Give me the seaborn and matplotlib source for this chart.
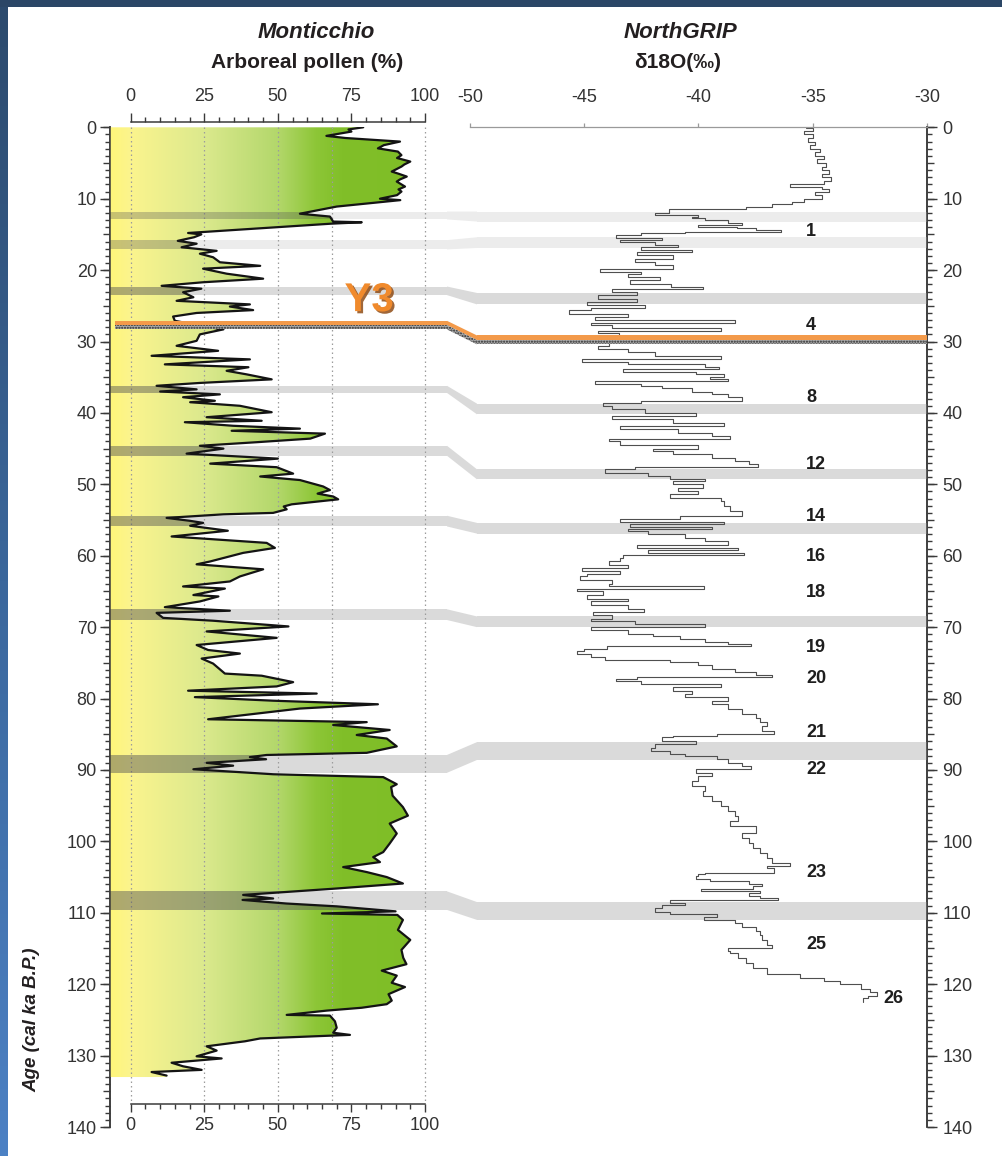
import numpy as np
import pandas as pd
import matplotlib
matplotlib.use("Agg")
import matplotlib.pyplot as plt
import seaborn as sns
from matplotlib.patches import Polygon, Rectangle
from matplotlib.colors import LinearSegmentedColormap
import matplotlib.patheffects as pe
from matplotlib.ticker import MultipleLocator, FixedLocator, NullFormatter

# ---------------- data ----------------
pollen_age = [0.0, 0.3, 0.6, 1.2, 1.5, 2.0, 2.5, 2.95, 3.4, 3.9, 4.3, 4.8, 5.2, 5.5, 6.2, 6.5, 6.9, 7.3, 7.6, 8.3,
              8.7, 9.0, 9.5, 10.0, 10.2, 11.1, 12.1, 12.5, 13.2, 13.3, 13.5, 14.6, 14.8, 15.0, 15.4, 15.9, 16.3, 16.8,
              17.3, 17.7, 18.2, 18.9, 19.4, 19.8, 20.5, 21.2, 21.7, 22.2, 22.6, 23.1, 23.8, 24.3, 24.8, 25.1, 25.6,
              26.0, 26.5, 27.1, 27.9, 28.3, 29.0, 29.9, 30.6, 31.3, 32.0, 32.5, 33.2, 33.6, 34.1, 34.6, 35.3, 35.8,
              36.2, 36.7, 37.0, 37.4, 37.8, 38.3, 38.5, 39.0, 39.9, 40.6, 41.1, 41.3, 41.8, 42.2, 42.5, 42.9, 43.6,
              44.1, 44.6, 45.0, 45.7, 46.4, 47.1, 47.6, 48.5, 48.9, 49.4, 50.3, 50.8, 51.3, 51.7, 52.1, 52.8, 53.1,
              53.5, 54.0, 54.2, 54.7, 55.1, 55.4, 55.8, 56.5, 57.3, 58.2, 58.9, 59.6, 60.8, 61.2, 61.9, 62.9, 63.6,
              64.3, 64.6, 65.5, 65.7, 66.4, 67.2, 67.7, 68.0, 68.7, 69.1, 69.9, 70.6, 71.5, 72.5, 73.2, 73.7, 74.4,
              75.1, 76.5, 76.8, 77.7, 78.3, 78.9, 79.3, 79.8, 80.3, 80.8, 81.4, 82.9, 83.3, 83.7, 84.4, 85.1, 85.6,
              86.7, 87.6, 87.9, 88.2, 88.5, 89.0, 89.4, 89.9, 90.6, 91.0, 92.0, 92.4, 93.6, 95.2, 96.4, 97.5, 98.9,
              100.3, 101.5, 102.2, 102.9, 103.6, 104.3, 105.0, 105.9, 106.6, 107.5, 108.0, 108.2, 108.7, 109.1,
              109.8, 110.1, 110.3, 111.0, 112.4, 113.8, 115.2, 116.3, 117.2, 118.1, 118.8, 119.8, 120.4, 121.4,
              122.3, 122.8, 123.3, 123.7, 124.3, 124.4, 125.2, 126.1, 126.8, 127.1, 127.6, 128.0, 128.7, 129.3,
              130.1, 130.4, 131.0, 131.5, 132.0, 132.3, 132.8]
pollen_ap = [79, 74, 75, 66.5, 73, 91.5, 86, 84, 90.8, 92, 90.5, 95, 93, 92, 88.7, 91, 93.8, 91.5, 90.4, 93.2,
             91, 92, 90.5, 84.7, 91.6, 70, 57.5, 67.7, 68.8, 78.5, 68, 27, 19.5, 24, 21.5, 16, 22.4, 17.3,
             29.2, 23.5, 28, 30.3, 44, 24.6, 32.6, 45, 24.6, 10.5, 24, 17.8, 21.3, 15.6, 40.5, 33.7, 41.6,
             22.4, 14.4, 15, 25, 31.5, 23.5, 22.4, 15.6, 29.7, 7.1, 40.5, 11.6, 40, 32.6, 39.4, 47.9, 23.5,
             8.8, 22.4, 10, 30.3, 17.8, 28.6, 20.2, 37.1, 47.9, 25.8, 44.5, 18.4, 34.8, 57.5, 34.3, 66, 61,
             42.8, 23.5, 31.5, 19, 50, 27, 49.6, 55.2, 44, 57.5, 65.4, 67.7, 63.5, 68.8, 70.5, 54.7, 52,
             53, 48.4, 31.5, 12.2, 20, 24.6, 20.2, 33, 13.9, 46.2, 49, 38.2, 27, 22.4, 45, 37.1, 33.7,
             17.8, 32, 21.3, 29.8, 23.5, 11.6, 33.7, 8.8, 11, 28, 53.6, 25.8, 49.6, 22.4, 26.3, 37.1, 24.1,
             28, 32, 44.5, 55.2, 49.6, 19.5, 63.2, 21.8, 48.4, 84, 57.5, 26.3, 80.2, 68.8, 88, 76.8, 87,
             90.4, 80.2, 46.2, 40.5, 46, 25.8, 34.8, 21.3, 48.4, 85.8, 90.4, 88.5, 89, 92.5, 94.2, 88, 90.4,
             88, 85.8, 82.4, 84.7, 72.2, 80.2, 87, 92.5, 70, 38.2, 48.4, 38, 52.8, 70,
             90, 65, 90.6, 92.5, 90.8, 95, 92, 92.6, 93.7, 85.3, 90.4, 88.7, 93.2, 87.6,
             88.7, 87, 78.5, 66.6, 53, 67.7, 69.4, 70, 68.8, 74.5, 44, 38.8, 25.8, 29.2,
             22.4, 30.9, 13.9, 17.8, 24.1, 7.1, 12.2]

ngrip_age = [0.1, 0.5, 1.0, 1.5, 2.0, 2.5, 3.0, 3.5, 4.0, 4.5, 5.0, 5.5, 6.0, 6.5, 7.0, 7.5, 8.0, 8.4, 8.6, 9.0,
             9.5, 10.0, 10.4, 10.8, 11.1, 11.5, 12.0, 12.25, 12.5, 12.7, 13.0, 13.4, 13.7, 13.9, 14.1, 14.4, 14.6,
             14.8, 15.1, 15.5, 15.8, 16.0, 16.5, 16.7, 17.2, 17.4, 17.9, 18.4, 18.8, 19.3, 19.8, 20.2, 20.6, 20.9,
             21.4, 21.9, 22.3, 22.7, 23.1, 23.5, 24.0, 24.5, 24.9, 25.3, 25.6, 26.1, 26.6, 27.0, 27.4, 27.7, 28.1,
             28.5, 28.8, 29.3, 29.9, 30.6, 31.0, 31.5, 32.0, 32.4, 32.8, 33.1, 33.5, 33.8, 34.2, 34.6, 34.9, 35.3,
             35.5, 36.0, 36.2, 36.5, 37.0, 37.4, 37.8, 38.3, 38.6, 39.0, 39.5, 39.95, 40.4, 40.9, 41.4, 41.8, 42.3,
             42.8, 43.2, 43.6, 44.0, 44.5, 45.0, 45.4, 45.8, 46.3, 46.8, 47.2, 47.6, 47.8, 48.4, 48.9, 49.3, 49.6,
             50.0, 50.5, 50.9, 51.4, 51.9, 52.3, 53.05, 53.8, 54.5, 54.9, 55.3, 55.6, 56.0, 56.2, 56.6, 57.0, 57.5,
             58.0, 58.45, 58.9, 59.2, 59.6, 59.9, 60.3, 60.8, 61.3, 61.7, 62.1, 62.5, 62.9, 63.4, 63.9, 64.3, 64.6,
             65.0, 65.5, 66.0, 66.4, 66.9, 67.4, 67.9, 68.3, 68.8, 69.2, 69.6, 70.0, 70.4, 70.9, 71.3, 71.6, 72.1,
             72.4, 72.7, 73.0, 73.3, 73.7, 74.2, 74.55, 74.9, 75.35, 75.8, 76.3, 76.7, 77.0, 77.2, 77.6, 78.0, 78.4,
             78.9, 79.3, 79.8, 80.3, 80.8, 81.5, 82.2, 82.7, 83.3, 83.8, 84.5, 85.0, 85.2, 85.4, 85.9, 86.4, 86.9,
             87.3, 87.8, 88.1, 88.5, 89.0, 89.4, 89.9, 90.4, 90.8, 91.5, 92.3, 93.0, 93.7, 94.4, 95.1, 95.8, 96.5,
             97.2, 97.9, 98.8, 99.5, 100.2, 100.9, 101.6, 102.3, 103.05, 103.4, 103.75, 104.4, 104.55, 104.9,
             105.3, 105.6, 105.9, 106.2, 106.6, 106.9, 107.3, 107.65, 108.0, 108.2, 108.6, 108.9, 109.4, 109.9,
             110.2, 110.6, 111.0, 111.5, 112.0, 112.5, 113.1, 113.8, 114.55, 115.0, 115.3, 115.7, 116.4, 117.1,
             117.8, 118.6, 119.1, 119.5, 120.0, 120.7, 121.1, 121.6, 122.0, 122.5]
ngrip_d18o = [-35.3, -35.0, -35.4, -35.0, -35.2, -34.9, -35.1, -34.7, -34.9, -34.5, -34.8, -34.4, -34.6, -34.3,
              -34.6, -34.2, -34.5, -36.0, -34.6, -34.3, -34.9, -34.6, -35.4, -35.9, -36.8, -37.9, -41.3, -41.9,
              -40.0, -40.3, -39.7, -38.7, -38.1, -40.0, -38.3, -37.5, -36.4, -40.6, -42.5, -43.6, -41.6, -43.45,
              -41.9, -40.9, -42.5, -40.3, -42.7, -41.1, -42.8, -41.9, -41.1, -44.3, -42.5, -43.1, -41.7, -43.0,
              -41.2, -39.8, -43.8, -42.7, -44.4, -42.7, -44.9, -42.35, -44.7, -45.65, -43.1, -44.55, -38.4, -44.7,
              -43.8, -39.0, -44.4, -43.5, -44.55, -43.9, -44.4, -43.1, -41.9, -39.0, -45.1, -43.1, -39.7, -39.1,
              -43.3, -40.1, -38.9, -39.5, -38.7, -44.55, -42.5, -41.6, -40.3, -39.4, -38.7, -38.1, -42.5, -44.2,
              -43.8, -42.35, -40.1, -43.8, -41.1, -38.9, -43.45, -40.9, -39.4, -38.6, -43.9, -43.45, -40.0, -42.0,
              -41.1, -39.4, -38.4, -37.8, -37.4, -42.8, -44.1, -42.2, -41.25, -39.7, -41.1, -39.8, -40.9, -40.0,
              -41.25, -39.0, -38.9, -38.6, -38.1, -40.8, -43.45, -38.9, -43.0, -39.4, -43.1, -42.2, -40.6, -39.7,
              -38.7, -42.7, -38.25, -42.2, -38.0, -43.3, -43.45, -43.9, -43.1, -45.1, -43.45, -44.9, -45.2, -43.8,
              -43.9, -39.75, -45.3, -44.2, -44.9, -43.1, -44.7, -43.1, -42.4, -44.6, -43.8, -44.7, -42.8, -39.7,
              -44.7, -43.1, -42.0, -40.8, -39.7, -38.7, -37.7, -44.0, -45.0, -45.3, -44.7, -44.1, -41.25, -40.0,
              -39.4, -38.4, -37.5, -36.8, -42.7, -43.6, -42.5, -39.0, -41.1, -40.3, -40.6, -38.7, -39.4, -38.7,
              -38.1, -37.5, -37.3, -37.0, -37.2, -36.7, -39.2, -41.1, -41.6, -40.1, -41.9, -42.1, -41.25, -40.6,
              -39.2, -38.7, -38.1, -37.7, -40.1, -39.4, -40.0, -40.3, -39.7, -39.8, -39.4, -39.0, -38.7, -38.4,
              -38.25, -38.6, -37.5, -38.1, -37.8, -37.6, -37.3, -37.0, -36.8, -36.0, -37.0, -36.7, -39.7, -40.0,
              -40.1, -39.5, -37.8, -37.2, -37.6, -39.9, -37.3, -37.8, -37.3, -36.5, -41.25, -40.6, -41.6, -41.9,
              -41.25, -39.2, -39.75, -38.4, -38.1, -37.5, -37.3, -37.2, -37.0, -36.8, -38.7, -38.6, -38.25, -37.9,
              -37.6, -37.0, -35.55, -34.5, -33.8, -32.9, -32.5, -32.2, -32.6, -32.8]

event_labels = ["1", "4", "8", "12", "14", "16", "18", "19", "20", "21", "22", "23", "25", "26"]
event_age = [14.6, 27.7, 37.8, 47.2, 54.5, 60.1, 65.2, 72.9, 77.2, 84.7, 89.9, 104.4, 114.4, 122.0]
event_x = [-35.3] * 13 + [-31.9]

band_left_top = [11.8, 15.8, 22.3, 36.2, 44.6, 54.4, 67.5, 87.9, 107.0]
band_left_bot = [12.9, 17.1, 23.5, 37.2, 46.0, 55.9, 69.0, 90.4, 109.6]
band_right_top = [11.8, 15.4, 23.2, 38.7, 47.9, 55.4, 68.5, 86.1, 108.5]
band_right_bot = [13.2, 16.9, 24.8, 40.2, 49.3, 56.9, 70.0, 88.6, 111.0]
band_light = [True, True, False, False, False, False, False, False, False]

tephra_left = [27.1, 27.7, 28.3]     # orange top, orange/dots boundary, dots bottom
tephra_right = [29.15, 29.8, 30.4]
tephra_name = "Y3"

pollen_ticks = [0, 25, 50, 75, 100]
pollen_grid = [0, 25, 50, 68.5, 100]
ngrip_ticks = [-50, -45, -40, -35, -30]
age_ticks = list(range(0, 141, 10))

# ---------------- layout (pixels) ----------------
W, H = 1003, 1156
Y0, Y140 = 127.3, 1127.0
SPINE_L, P0, P100 = 110, 130.7, 425.0
MID0, MID1 = 447, 477
R_L, R_R = 470, 927

def fx(px):
    return px / W

def fy(py):
    return 1 - py / H

sns.set_theme(style="white")
plt.rcParams["font.family"] = ["Liberation Sans", "DejaVu Sans"]
plt.rcParams["hatch.linewidth"] = 1.0
plt.rcParams["axes.unicode_minus"] = False

fig = plt.figure(figsize=(W / 100, H / 100), dpi=100)
fig.patch.set_facecolor("white")

# border decorations
axb = fig.add_axes([0, 0, fx(8), 1 - 7 / H])
axb.imshow(np.linspace(0, 1, 256)[:, None], aspect="auto",
           cmap=LinearSegmentedColormap.from_list("b", ["#2c4a6d", "#3b679c", "#4c81c4"]))
axb.axis("off")
fig.patches.append(Rectangle((0, 1 - 7 / H), 1, 7 / H, transform=fig.transFigure,
                             facecolor="#2b4666", edgecolor="none", zorder=0))

ppu = (P100 - P0) / 100.0
xl0 = (SPINE_L - P0) / ppu
xl1 = (MID0 - P0) / ppu
ax_h = (Y140 - Y0) / H

ax1 = fig.add_axes([fx(SPINE_L), fy(Y140), fx(MID0 - SPINE_L), ax_h])
axm = fig.add_axes([fx(MID0), fy(Y140), fx(MID1 - MID0), ax_h])
ax2 = fig.add_axes([fx(R_L), fy(Y140), fx(R_R - R_L), ax_h])
for a in (ax1, axm, ax2):
    a.patch.set_alpha(0)
    a.set_ylim(140, 0)
ax1.set_xlim(xl0, xl1)
ax2.set_xlim(-50, -30)
axm.set_xlim(0, 1)
axm.axis("off")

TICKC = "#3a3a3a"
LABC = "#333333"

# ---------------- left panel ----------------
stops = [(xl0, "#fff67a"), (0, "#fbf48e"), (25, "#dbe98d"), (50, "#b3d76b"),
         (63, "#8dc637"), (72, "#81bf29"), (xl1, "#7ebd26")]
cmap = LinearSegmentedColormap.from_list(
    "yg", [((v - xl0) / (xl1 - xl0), c) for v, c in stops])
verts = [(xl0, pollen_age[0])] + list(zip(pollen_ap, pollen_age)) + \
        [(pollen_ap[-1], 133.0), (xl0, 133.0)]
poly = Polygon(verts, closed=True, facecolor="none", edgecolor="none", transform=ax1.transData)
ax1.add_patch(poly)
im = ax1.imshow(np.linspace(xl0, xl1, 600)[None, :], extent=(xl0, xl1, 133.5, 0), aspect="auto",
                cmap=cmap, vmin=xl0, vmax=xl1, zorder=1, interpolation="bilinear")
im.set_clip_path(poly)
ax1.set_xlim(xl0, xl1)
ax1.set_ylim(140, 0)

for t, b, light in zip(band_left_top, band_left_bot, band_light):
    ax1.axhspan(t, b, color="#ececec" if light else "#dadada", lw=0, zorder=0.5)
    ov = ax1.axhspan(t, b, color="#555555", alpha=0.32 if light else 0.47, lw=0, zorder=2)
    ov.set_clip_path(poly)

ax1.vlines(pollen_grid, 0, 136.8, colors="#9c9c9c", linestyles=(0, (1.2, 2.4)), lw=0.9, zorder=1.5)

df_p = pd.DataFrame({"ap": pollen_ap, "age": pollen_age})
sns.lineplot(data=df_p, x="ap", y="age", sort=False, estimator=None, color="#141414",
             lw=1.6, ax=ax1, zorder=3, legend=False)
ax1.set_xlim(xl0, xl1)
ax1.set_ylim(140, 0)

# tephra in left panel
x_t0 = (115 - P0) / ppu
ax1.fill_between([x_t0, xl1], tephra_left[0], tephra_left[1], color="#f39a4a", lw=0, zorder=4)
ax1.fill_between([x_t0, xl1], tephra_left[1], tephra_left[2], facecolor="#a8a8a8",
                 edgecolor="#2a2a2a", hatch="......", lw=0, zorder=4)

ax1.text(81.0, 24.2, tephra_name, color="#f08a2c", fontsize=29, fontweight="bold",
         ha="center", va="center", zorder=5,
         path_effects=[pe.withSimplePatchShadow(offset=(1.6, -1.6), shadow_rgbFace="#8f4c16", alpha=0.85)])

# axes styling left
for s in ("top", "right"):
    ax1.spines[s].set_visible(False)
ax1.spines["left"].set_color(TICKC)
ax1.spines["left"].set_linewidth(1.1)
ax1.spines["left"].set_bounds(0, 140)
ax1.spines["bottom"].set_position(("data", 136.8))
ax1.spines["bottom"].set_bounds(0, 100)
ax1.spines["bottom"].set_color(TICKC)
ax1.spines["bottom"].set_linewidth(1.1)
ax1.yaxis.set_major_locator(MultipleLocator(5))
ax1.yaxis.set_major_formatter(NullFormatter())
ax1.yaxis.set_minor_locator(MultipleLocator(1))
ax1.xaxis.set_major_locator(FixedLocator(pollen_ticks))
ax1.xaxis.set_minor_locator(FixedLocator(list(range(0, 101, 5))))
ax1.tick_params(axis="y", which="both", left=True, direction="out", color=TICKC, width=1.0)
ax1.tick_params(axis="y", which="major", length=5.2)
ax1.tick_params(axis="y", which="minor", length=3.6)
ax1.tick_params(axis="x", which="both", bottom=True, top=False, direction="out", color=TICKC,
                width=1.0, labelsize=13, labelcolor=LABC, pad=3)
ax1.tick_params(axis="x", which="major", length=6.0)
ax1.tick_params(axis="x", which="minor", length=3.8)
ax1.set_xlabel("")
ax1.set_ylabel("")

sy1 = ax1.secondary_yaxis(0)
sy1.spines["left"].set_color(TICKC)
sy1.spines["left"].set_linewidth(1.1)
sy1.yaxis.set_major_locator(FixedLocator(age_ticks))
sy1.tick_params(axis="y", which="major", direction="out", color=TICKC, width=1.0, length=7.5,
                labelsize=13, labelcolor=LABC, pad=2)

sec = ax1.secondary_xaxis(1 + 5.6 / (Y140 - Y0))
sec.spines["top"].set_bounds(0, 100)
sec.spines["top"].set_color(TICKC)
sec.spines["top"].set_linewidth(1.1)
sec.xaxis.set_major_locator(FixedLocator(pollen_ticks))
sec.xaxis.set_minor_locator(FixedLocator(list(range(0, 101, 5))))
sec.tick_params(axis="x", which="both", direction="out", color=TICKC, width=1.0,
                labelsize=13, labelcolor=LABC, pad=5.5)
sec.tick_params(axis="x", which="major", length=6.5)
sec.tick_params(axis="x", which="minor", length=3.8)

# ---------------- middle connectors ----------------
for lt, lb, rt, rb, light in zip(band_left_top, band_left_bot, band_right_top, band_right_bot, band_light):
    axm.fill([0, 1, 1, 0], [lt, rt, rb, lb], color="#ececec" if light else "#dadada", lw=0)
axm.fill([0, 1, 1, 0], [tephra_left[0], tephra_right[0], tephra_right[1], tephra_left[1]],
         color="#f39a4a", lw=0, zorder=4)
axm.fill([0, 1, 1, 0], [tephra_left[1], tephra_right[1], tephra_right[2], tephra_left[2]],
         facecolor="#a8a8a8", edgecolor="#2a2a2a", hatch="......", lw=0, zorder=4)

# ---------------- right panel ----------------
xr0 = -50 + (MID1 - R_L) / ((R_R - R_L) / 20.0)
for t, b, light in zip(band_right_top, band_right_bot, band_light):
    ax2.fill_between([xr0, -30], t, b, color="#ececec" if light else "#dadada", lw=0, zorder=0.5)
ax2.fill_between([xr0, -30], tephra_right[0], tephra_right[1], color="#f39a4a", lw=0, zorder=4)
ax2.fill_between([xr0, -30], tephra_right[1], tephra_right[2], facecolor="#a8a8a8",
                 edgecolor="#2a2a2a", hatch="......", lw=0, zorder=4)

df_n = pd.DataFrame({"d18o": ngrip_d18o, "age": ngrip_age})
sns.lineplot(data=df_n, x="d18o", y="age", sort=False, estimator=None, color="#4f4f4f",
             lw=0.8, drawstyle="steps-post", ax=ax2, zorder=2, legend=False)
ax2.set_xlim(-50, -30)
ax2.set_ylim(140, 0)
ax2.set_xlabel("")
ax2.set_ylabel("")

for lab, a, x in zip(event_labels, event_age, event_x):
    ax2.text(x, a, lab, fontsize=13, fontweight="bold", color="#1e1e1e", ha="left", va="center", zorder=6)

for s in ("left", "bottom"):
    ax2.spines[s].set_visible(False)
ax2.spines["top"].set_color("#9a9a9a")
ax2.spines["top"].set_linewidth(0.9)
ax2.spines["right"].set_color(TICKC)
ax2.spines["right"].set_linewidth(1.1)
ax2.yaxis.tick_right()
ax2.xaxis.tick_top()
ax2.yaxis.set_major_locator(MultipleLocator(5))
ax2.yaxis.set_major_formatter(NullFormatter())
ax2.yaxis.set_minor_locator(MultipleLocator(1))
ax2.xaxis.set_major_locator(FixedLocator(ngrip_ticks))
ax2.tick_params(axis="y", which="both", right=True, left=False, direction="out", color=TICKC, width=1.0)
ax2.tick_params(axis="y", which="major", length=5.2)
ax2.tick_params(axis="y", which="minor", length=3.6)
ax2.tick_params(axis="x", which="major", top=True, bottom=False, direction="out", color="#9a9a9a",
                width=0.9, length=3, labelsize=13, labelcolor=LABC, pad=12)

sy2 = ax2.secondary_yaxis(1)
sy2.spines["right"].set_color(TICKC)
sy2.spines["right"].set_linewidth(1.1)
sy2.yaxis.set_major_locator(FixedLocator(age_ticks))
sy2.tick_params(axis="y", which="major", direction="out", color=TICKC, width=1.0, length=7,
                labelsize=13, labelcolor=LABC, pad=4)

# ---------------- titles ----------------
tc = "#231f20"
fig.text(fx(316), fy(32), "Monticchio", ha="center", va="center", fontsize=16,
         fontweight="bold", fontstyle="italic", color=tc)
fig.text(fx(307), fy(63), "Arboreal pollen (%)", ha="center", va="center", fontsize=15,
         fontweight="bold", color=tc)
fig.text(fx(680), fy(32), "NorthGRIP", ha="center", va="center", fontsize=16,
         fontweight="bold", fontstyle="italic", color=tc)
fig.text(fx(678), fy(63), "δ18O(‰)", ha="center", va="center", fontsize=15,
         fontweight="bold", color=tc)
fig.text(fx(32), fy(1020), "Age (cal ka B.P.)", ha="center", va="center", rotation=90,
         fontsize=13.5, fontweight="bold", fontstyle="italic", color=tc)

fig.savefig("out.png", dpi=100, facecolor="white")
